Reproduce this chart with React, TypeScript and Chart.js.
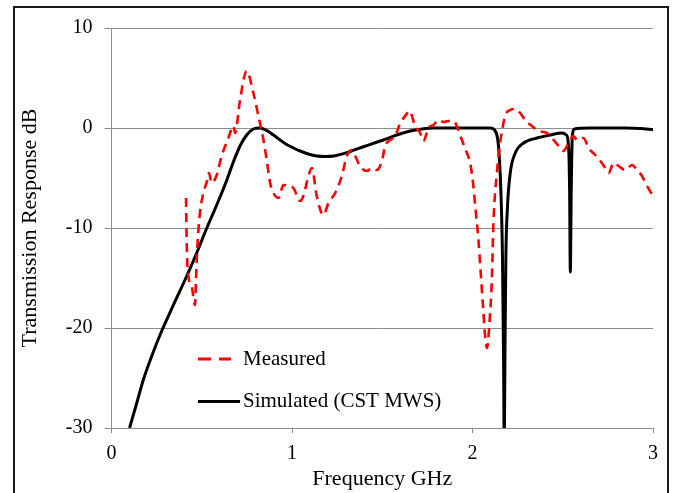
import React, { useEffect, useRef } from "react";
import { Chart, registerables } from "chart.js";

Chart.register(...registerables);

// X values (GHz) and Y values (dB)
const measuredFreq = [
  0.413, 0.417, 0.426, 0.444, 0.463, 0.468, 0.476, 0.49, 0.509, 0.531,
  0.54, 0.555, 0.583, 0.61, 0.648, 0.675, 0.685, 0.712, 0.749, 0.786,
  0.814, 0.842, 0.86, 0.879, 0.897, 0.925, 0.952, 0.98, 1.008, 1.045,
  1.063, 1.091, 1.11, 1.137, 1.174, 1.202, 1.239, 1.276, 1.304, 1.331,
  1.35, 1.377, 1.415, 1.442, 1.47, 1.498, 1.516, 1.544, 1.572, 1.6,
  1.627, 1.651, 1.682, 1.71, 1.728, 1.756, 1.784, 1.812, 1.84, 1.867,
  1.895, 1.913, 1.941, 1.969, 1.987, 2.005, 2.015, 2.033, 2.043, 2.058,
  2.07, 2.08, 2.094, 2.108, 2.116, 2.135, 2.153, 2.181, 2.209, 2.237,
  2.264, 2.292, 2.329, 2.366, 2.412, 2.449, 2.477, 2.504, 2.532, 2.56,
  2.579, 2.615, 2.643, 2.68, 2.708, 2.736, 2.754, 2.782, 2.809, 2.846,
  2.884, 2.911, 2.939, 2.967, 3.0,
];
const measuredDb = [
  -7.0, -11.8, -14.8, -15.8, -17.7, -15.2, -11.8, -8.5, -6.5, -5.2,
  -4.5, -5.5, -4.7, -2.8, -1.0, 0.2, -0.5, 2.8, 5.7, 3.5,
  1.2, -1.2, -3.2, -5.5, -6.5, -7.0, -5.7, -5.8, -6.0, -7.3,
  -6.8, -4.8, -4.0, -6.8, -8.7, -7.5, -6.5, -4.8, -2.8, -2.2,
  -2.8, -3.8, -4.3, -4.0, -4.2, -3.3, -1.8, -1.2, -0.8, 0.5,
  1.2, 1.7, 0.2, -0.5, -1.3, 0, 0.3, 0.8, 0.6, 0.7,
  0.7, 0.2, -1.2, -2.5, -3.5, -5.8, -7.8, -11.2, -13.8, -17.8,
  -20.8, -22.0, -19.5, -14.8, -9.5, -4.5, -1.5, 1.2, 1.8, 1.9,
  1.5, 0.8, 0.2, -0.3, -0.5, -1.2, -1.8, -2.3, -1.5, -0.8,
  -1.2, -1.0, -2.0, -2.7, -3.3, -4.0, -4.5, -3.5, -3.8, -4.2,
  -3.7, -4.2, -4.8, -5.8, -6.8,
];

const simFreq = [
  0.1, 0.14, 0.176, 0.223, 0.278, 0.343, 0.417, 0.472, 0.528, 0.583,
  0.639, 0.675, 0.712, 0.749, 0.786, 0.823, 0.86, 0.897, 0.934, 0.97,
  1.008, 1.045, 1.09, 1.137, 1.183, 1.23, 1.322, 1.4, 1.506, 1.58,
  1.655, 1.72, 1.784, 1.85, 1.95, 2.05, 2.098, 2.126, 2.144, 2.157,
  2.166, 2.172, 2.176, 2.18, 2.185, 2.194, 2.209, 2.237, 2.283, 2.357,
  2.431, 2.496, 2.52, 2.532, 2.538, 2.542, 2.547, 2.553, 2.564, 2.65,
  2.75, 2.85, 2.93, 3.0,
];
const simDb = [
  -30, -27.5, -25.2, -22.8, -20.3, -17.7, -14.8, -12.5, -10, -7.7,
  -5.2, -3.4, -1.8, -0.7, -0.1, 0, -0.25, -0.7, -1.2, -1.65,
  -2.0, -2.3, -2.6, -2.8, -2.85, -2.8, -2.35, -1.85, -1.2, -0.7,
  -0.3, -0.1, 0, 0, 0, 0, 0, -0.3, -1.8, -6.2,
  -12.8, -22.8, -32, -22, -12.8, -7.8, -4.5, -2.5, -1.5, -1.0,
  -0.7, -0.5, -0.7, -1.8, -6.2, -14.4, -6.2, -0.8, -0.1, 0,
  0, 0, -0.05, -0.15,
];

const seriesLabels = ["Measured", "Simulated (CST MWS)"];
const xAxisTitle = "Frequency GHz";
const yAxisTitle = "Transmission Response dB";
const xMin = 0, xMax = 3, xStep = 1;
const yMin = -30, yMax = 10, yStep = 10;

const FONT = '"Liberation Serif", "Times New Roman", serif';
const GRID = "#8c8c8c";

export default function App() {
  const ref = useRef<HTMLCanvasElement>(null);

  useEffect(() => {
    document.body.style.margin = "0";
    document.body.style.overflow = "hidden";
    const canvas = ref.current;
    if (!canvas) return;

    const inlineLegend = {
      id: "inlineLegend",
      afterDatasetsDraw(chart: any) {
        const { ctx, chartArea } = chart;
        const x0 = chartArea.left + 86.5;
        const rows = [chartArea.top + 331, chartArea.top + 373.5];
        ctx.save();
        chart.data.datasets.forEach((ds: any, i: number) => {
          const y = rows[i];
          ctx.beginPath();
          ctx.lineWidth = 3;
          ctx.strokeStyle = ds.borderColor;
          if (ds.borderDash && ds.borderDash.length) {
            ctx.setLineDash([13, 8]);
            ctx.moveTo(x0, y);
            ctx.lineTo(x0 + 33, y);
          } else {
            ctx.setLineDash([]);
            ctx.moveTo(x0, y);
            ctx.lineTo(x0 + 42, y);
          }
          ctx.stroke();
          ctx.setLineDash([]);
          ctx.font = `21px ${FONT}`;
          ctx.fillStyle = "#000";
          ctx.textBaseline = "middle";
          ctx.textAlign = "left";
          ctx.fillText(ds.label, x0 + 45, y);
        });
        ctx.restore();
      },
    };

    const chart = new Chart(canvas, {
      type: "line",
      data: {
        datasets: [
          {
            label: seriesLabels[0],
            data: measuredFreq.map((f, i) => ({ x: f, y: measuredDb[i] })),
            borderColor: "#ff0000",
            borderWidth: 2.6,
            borderDash: [9, 6],
            cubicInterpolationMode: "monotone",
            pointRadius: 0,
            fill: false,
          },
          {
            label: seriesLabels[1],
            data: simFreq.map((f, i) => ({ x: f, y: simDb[i] })),
            borderColor: "#000000",
            borderWidth: 3,
            cubicInterpolationMode: "monotone",
            pointRadius: 0,
            fill: false,
          },
        ],
      },
      options: {
        animation: false,
        responsive: false,
        devicePixelRatio: 1,
        layout: { padding: { left: 0, top: 28, right: 21, bottom: 0 } },
        plugins: {
          legend: { display: false },
          tooltip: { enabled: false },
        },
        scales: {
          x: {
            type: "linear",
            min: xMin,
            max: xMax,
            ticks: {
              stepSize: xStep,
              padding: 9,
              color: "#000",
              font: { family: FONT, size: 20 },
              maxRotation: 0,
            },
            grid: {
              drawOnChartArea: false,
              drawTicks: true,
              tickLength: 5,
              color: GRID,
            },
            border: { color: GRID, width: 1 },
            title: {
              display: true,
              text: xAxisTitle,
              color: "#000",
              font: { family: FONT, size: 22 },
              padding: { top: 0, bottom: 1 },
            },
            afterFit: (s: any) => {
              s.height = 65;
            },
          },
          y: {
            type: "linear",
            min: yMin,
            max: yMax,
            ticks: {
              stepSize: yStep,
              padding: 12,
              color: "#000",
              font: { family: FONT, size: 20 },
            },
            grid: { color: GRID, tickLength: 7 },
            border: { color: GRID, width: 1 },
            title: {
              display: true,
              text: yAxisTitle,
              color: "#000",
              font: { family: FONT, size: 22 },
              padding: { top: 17, bottom: 0 },
            },
            afterFit: (s: any) => {
              s.width = 111.5;
            },
          },
        },
      },
      plugins: [inlineLegend],
    });
    return () => chart.destroy();
  }, []);

  return (
    <div style={{ position: "relative", width: 674, height: 493, overflow: "hidden", background: "#fff" }}>
      <canvas ref={ref} width={674} height={493} style={{ display: "block", width: 674, height: 493 }} />
      <div
        style={{
          position: "absolute",
          left: 13,
          top: 6,
          width: 652,
          height: 520,
          border: "2px solid #1a1a1a",
          pointerEvents: "none",
        }}
      />
    </div>
  );
}
